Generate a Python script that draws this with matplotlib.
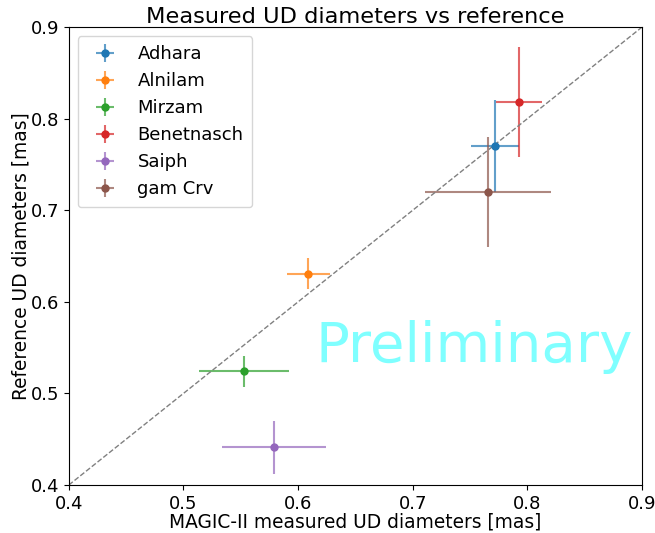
import matplotlib
matplotlib.use("Agg")
import matplotlib.pyplot as plt

names = ["Adhara", "Alnilam", "Mirzam", "Benetnasch", "Saiph", "gam Crv"]
magic_d = [0.772, 0.609, 0.553, 0.793, 0.579, 0.766]
magic_err = [0.021, 0.019, 0.039, 0.020, 0.045, 0.055]
ref_d = [0.770, 0.631, 0.524, 0.818, 0.441, 0.720]
ref_err = [0.050, 0.017, 0.017, 0.060, 0.029, 0.060]
colors = ["#1f77b4", "#ff7f0e", "#2ca02c", "#d62728", "#9467bd", "#8c564b"]

fig = plt.figure(figsize=(6.55, 5.33), dpi=100)
ax = fig.add_axes([0.105, 0.090, 0.875, 0.859])

for n, x, xe, y, ye, c in zip(names, magic_d, magic_err, ref_d, ref_err, colors):
    eb = ax.errorbar(x, y, xerr=xe, yerr=ye, fmt="o", color=c, markersize=5,
                     elinewidth=1.5, label=n)
    for lc in eb[2]:
        lc.set_alpha(0.7)

ax.plot([0.4, 0.9], [0.4, 0.9], "--", color="gray", linewidth=1)

ax.set_xlim(0.4, 0.9)
ax.set_ylim(0.4, 0.9)
ax.set_xticks([0.4, 0.5, 0.6, 0.7, 0.8, 0.9])
ax.set_yticks([0.4, 0.5, 0.6, 0.7, 0.8, 0.9])
ax.tick_params(labelsize=13)

ax.set_title("Measured UD diameters vs reference", fontsize=16.2, pad=3)
ax.set_xlabel("MAGIC-II measured UD diameters [mas]", fontsize=13.4, labelpad=0)
ax.set_ylabel("Reference UD diameters [mas]", fontsize=13.4, labelpad=0)

ax.text(0.615, 0.534, "Preliminary", color="cyan", alpha=0.5, fontsize=40.5,
        ha="left", va="baseline")

ax.legend(loc="upper left", fontsize=13, borderpad=0.5)

fig.savefig("out.png", dpi=100)
